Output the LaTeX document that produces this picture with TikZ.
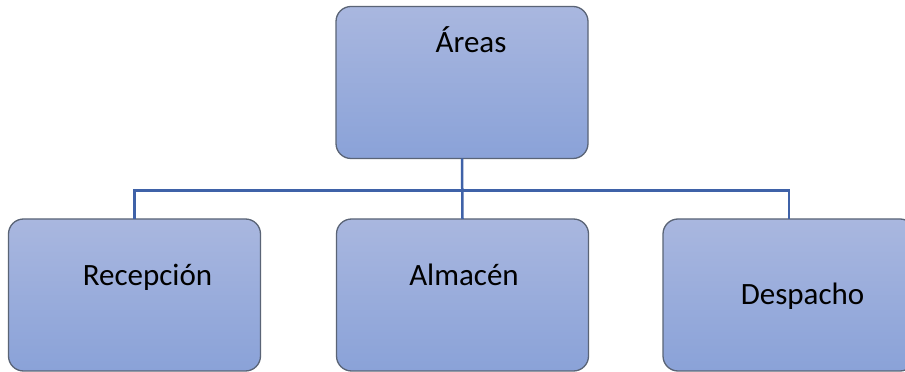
\documentclass[tikz,border=0pt]{standalone}
\usepackage{fontspec}
\setmainfont{Carlito}
\definecolor{boxtop}{HTML}{A9B7DF}
\definecolor{boxbot}{HTML}{8AA2D8}
\definecolor{boxedge}{HTML}{5A6476}
\definecolor{wire}{HTML}{3F62A8}
\tikzset{
  orgbox/.style={draw=boxedge, line width=1.3pt, rounded corners=15pt,
    top color=boxtop, bottom color=boxbot,
    minimum width=252pt, minimum height=152pt, inner sep=0pt, outer sep=0pt},
  orgtext/.style={anchor=base, font=\fontsize{31}{37}\selectfont, inner sep=0pt},
  wireline/.style={draw=wire, line width=2.5pt}
}
\begin{document}
\begin{tikzpicture}[x=1pt,y=1pt]
  \useasboundingbox (0,0) rectangle (905,372);
  \clip (0,0) rectangle (905,372);
  \fill[white] (0,0) rectangle (905,372);
  % boxes
  \node[orgbox] (top) at (462,289.5) {};
  \node[orgbox] (left) at (134.5,77) {};
  \node[orgbox] (mid) at (462.5,77) {};
  \node[orgbox] (right) at (789,77) {};
  % connectors
  \coordinate (bus) at (0,181.3);
  \draw[wireline] (top.south) -- (mid.north);
  \draw[wireline] (left.north) -- (left.north |- bus) -- (right.north |- bus) -- (right.north);
  % labels
  \node[orgtext] (tA) at (471,319) {Áreas};
  \node[orgtext] (tB) at (147.5,86) {Recepción};
  \node[orgtext] (tC) at (464,86) {Almacén};
  \node[orgtext] (tD) at (802.5,67) {Despacho};
\end{tikzpicture}
\end{document}
